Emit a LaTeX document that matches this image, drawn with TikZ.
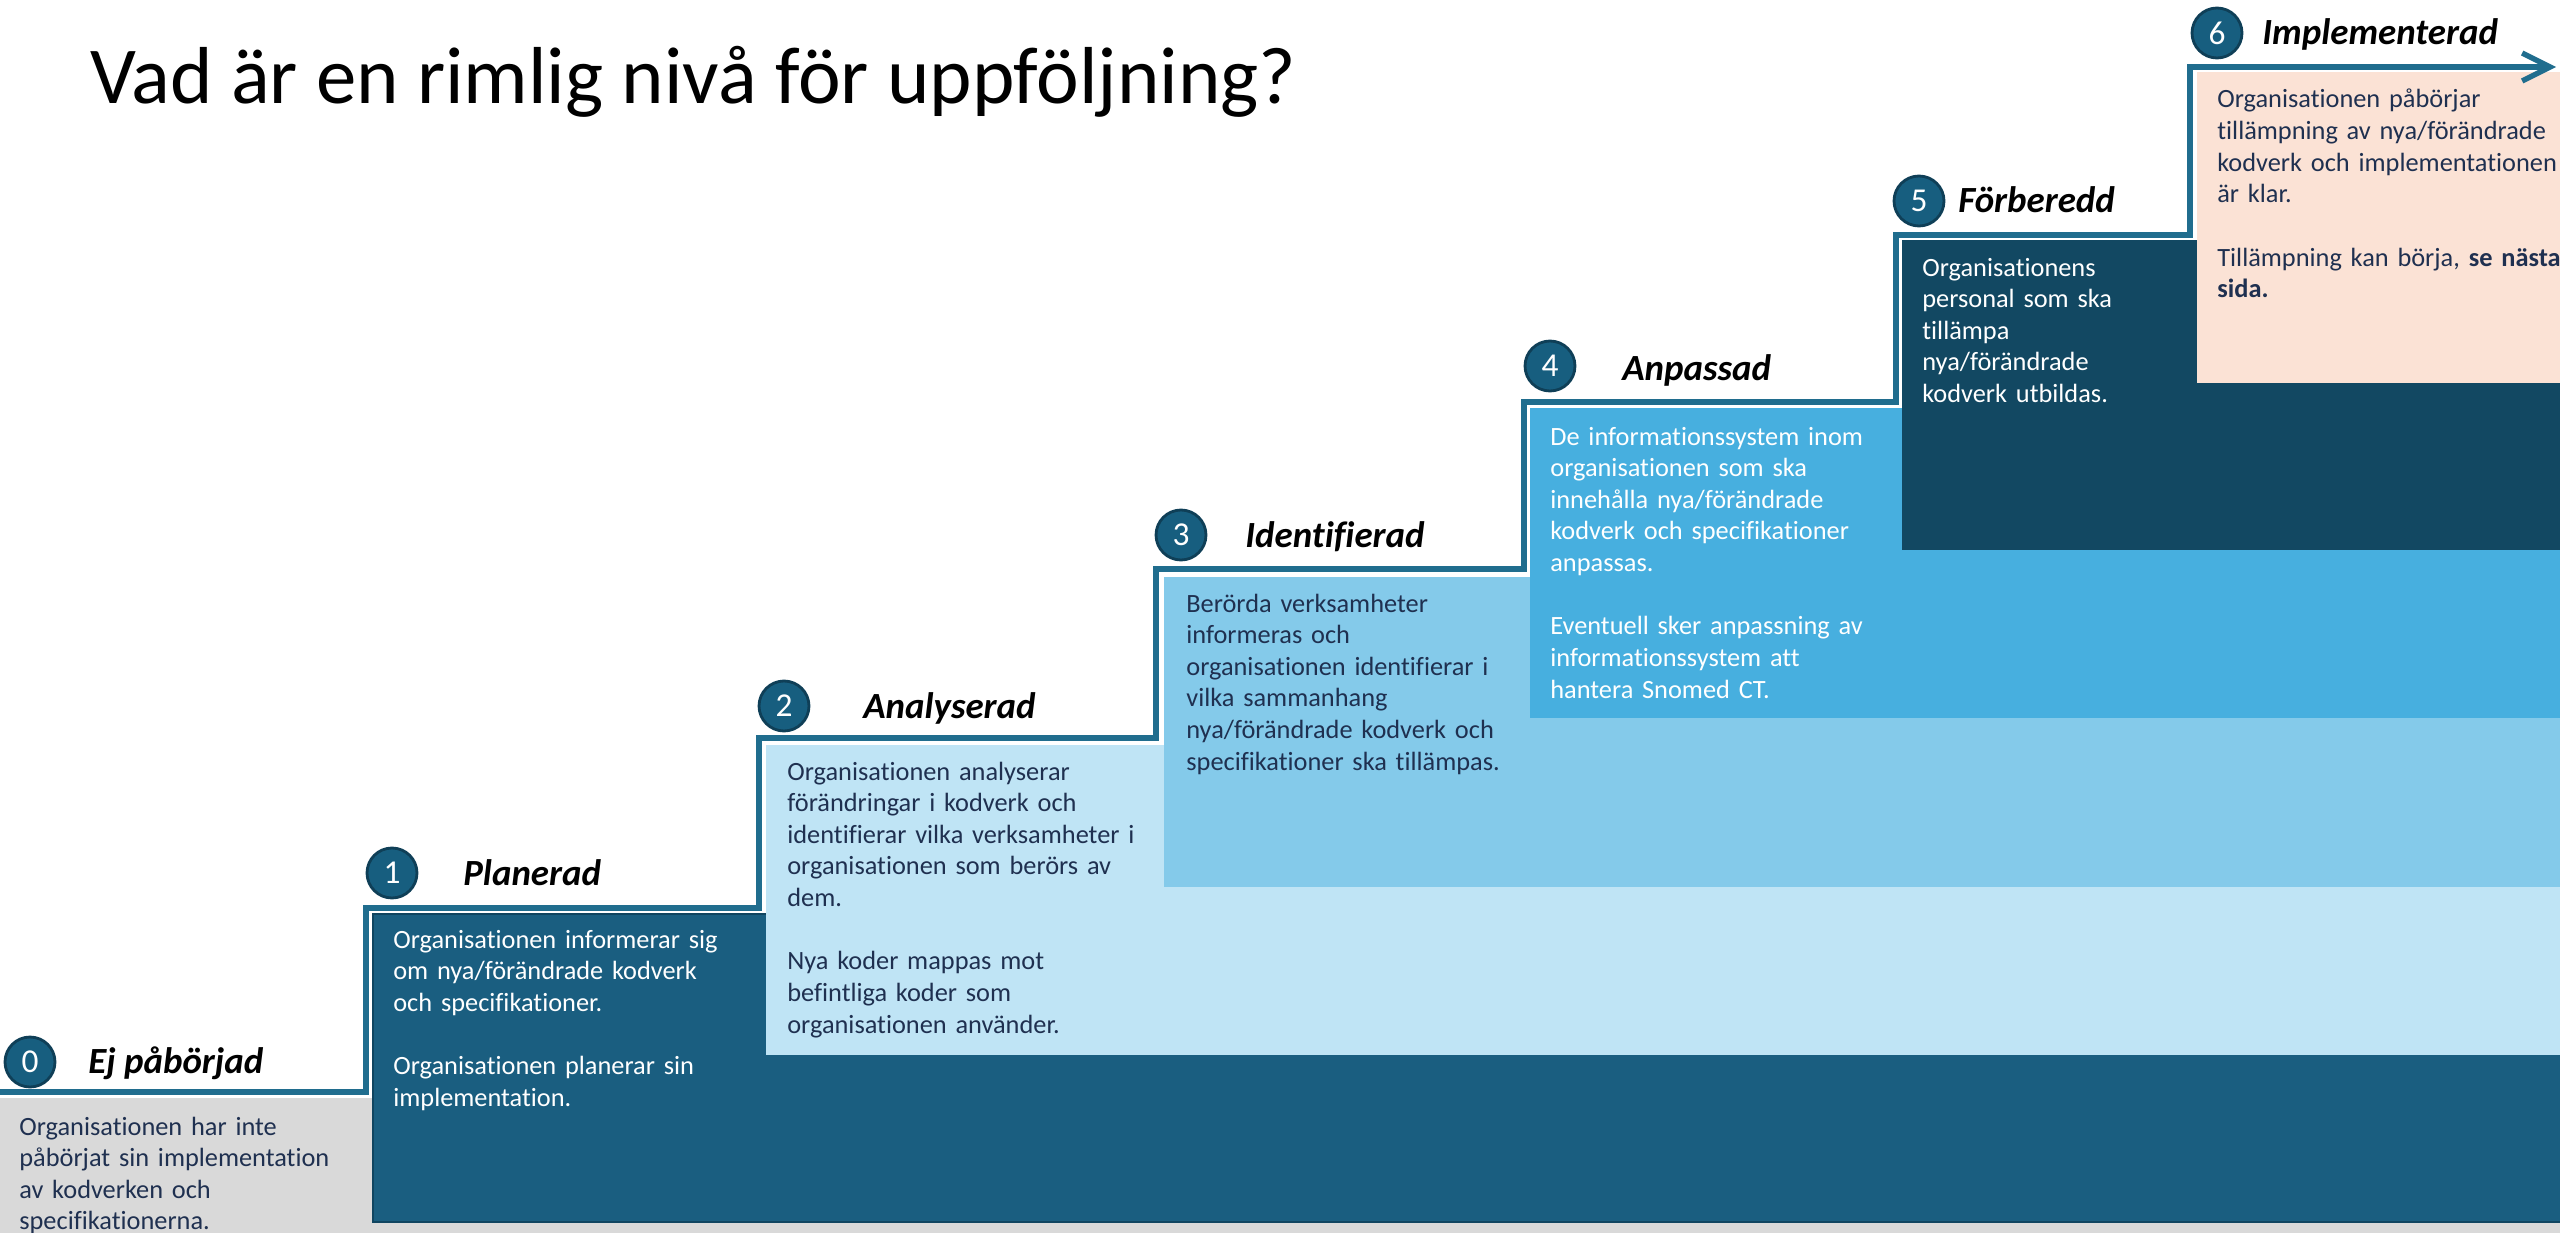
\documentclass[tikz,border=0pt]{standalone}
\usepackage{fontspec}
\setmainfont{Carlito}[Ligatures={NoCommon}]
\usetikzlibrary{arrows.meta}

\definecolor{step0}{HTML}{D9D9D9}
\definecolor{step1}{HTML}{1A5E80}
\definecolor{step1rim}{HTML}{104560}
\definecolor{step2}{HTML}{BFE4F5}
\definecolor{step3}{HTML}{84CAEA}
\definecolor{step4}{HTML}{47AFDF}
\definecolor{step5}{HTML}{124862}
\definecolor{step6}{HTML}{FBE2D5}
\definecolor{navytext}{HTML}{1F3050}
\definecolor{stairline}{HTML}{206D8E}
\definecolor{levelfill}{HTML}{175E7F}
\definecolor{levelrim}{HTML}{0F3F57}

\begin{document}
\begin{tikzpicture} [
    x=0.02cm, y=-0.02cm,
  ]

  \tikzstyle{level} = [
    circle,
    inner sep=0pt,
    minimum size=1cm,
    fill=levelfill,
    draw=levelrim,
    line width=1.6pt,
    text=white,
    font=\fontsize{19}{22}\selectfont,
  ]
  \tikzstyle{heading} = [
    anchor=base west,
    inner sep=0pt,
    font=\fontsize{21}{25}\selectfont\bfseries\itshape,
  ]
  \tikzstyle{body} = [
    anchor=base west,
    inner sep=0pt,
    text width=8cm,
    align=left,
    text=navytext,
    font=\fontsize{15}{18}\selectfont,
  ]
  \tikzstyle{bodylight} = [
    body,
    text=white,
  ]

  \useasboundingbox (0,0) rectangle (2560,1233);

  \node[anchor=base west, inner sep=0pt, font=\fontsize{46}{55}\selectfont] (title) at (90,104)
    {Vad är en rimlig nivå för uppföljning?};

  % the steps, back to front
  \fill[step0] (0,1098) rectangle (2560,1233);
  \filldraw[fill=step1, draw=step1rim, line width=1.6pt] (373,914) rectangle (2561,1222);
  \fill[step2] (766,745) rectangle (2560,1055);
  \fill[step3] (1164,577) rectangle (2560,887);
  \fill[step4] (1530,408) rectangle (2560,718);
  \fill[step5] (1902,240) rectangle (2560,550);
  \fill[step6] (2197,72) rectangle (2560,383);

  \node[body]      (txt0) at (19,1135)  {Organisationen har inte\\påbörjat sin implementation\\av kodverken och\\specifikationerna.};
  \node[bodylight] (txt1) at (393,948)  {Organisationen informerar sig\\om nya/förändrade kodverk\\och specifikationer.\\[18pt]Organisationen planerar sin\\implementation.};
  \node[body]      (txt2) at (787,780)  {Organisationen analyserar\\förändringar i kodverk och\\identifierar vilka verksamheter i\\organisationen som berörs av\\dem.\\[18pt]Nya koder mappas mot\\befintliga koder som\\organisationen använder.};
  \node[body]      (txt3) at (1186,612) {Berörda verksamheter\\informeras och\\organisationen identifierar i\\vilka sammanhang\\nya/förändrade kodverk och\\specifikationer ska tillämpas.};
  \node[bodylight] (txt4) at (1550,445) {De informationssystem inom\\organisationen som ska\\innehålla nya/förändrade\\kodverk och specifikationer\\anpassas.\\[18pt]Eventuell sker anpassning av\\informationssystem att\\hantera Snomed CT.};
  \node[bodylight] (txt5) at (1922,276) {Organisationens\\personal som ska\\tillämpa\\nya/förändrade\\kodverk utbildas.};
  \node[body]      (txt6) at (2217,108) {Organisationen påbörjar\\tillämpning av nya/förändrade\\kodverk och implementationen\\är klar.\\[18pt]Tillämpning kan börja, \textbf{se nästa}\\\textbf{sida.}};

  % the stair
  \draw[stairline, line width=3pt, -{Straight Barb[length=0.56cm, width=0.56cm]}]
    (0,1092) -| (366,908) -| (759,738) -| (1156,569) -| (1524,402)
    -| (1896,235) -| (2190,67) -- (2556,67);

  \node[level]   (lvl0)  at (30,1062)  {0};
  \node[heading] (head0) at (88,1073)  {Ej påbörjad};
  \node[level]   (lvl1)  at (392,873)  {1};
  \node[heading] (head1) at (463,885)  {Planerad};
  \node[level]   (lvl2)  at (784,706)  {2};
  \node[heading] (head2) at (863,718)  {Analyserad};
  \node[level]   (lvl3)  at (1181,535) {3};
  \node[heading] (head3) at (1245,547) {Identifierad};
  \node[level]   (lvl4)  at (1550,366) {4};
  \node[heading] (head4) at (1622,380) {Anpassad};
  \node[level]   (lvl5)  at (1919,201) {5};
  \node[heading] (head5) at (1958,213) {Förberedd};
  \node[level]   (lvl6)  at (2217,33)  {6};
  \node[heading] (head6) at (2262,45)  {Implementerad};

\end{tikzpicture}
\end{document}
